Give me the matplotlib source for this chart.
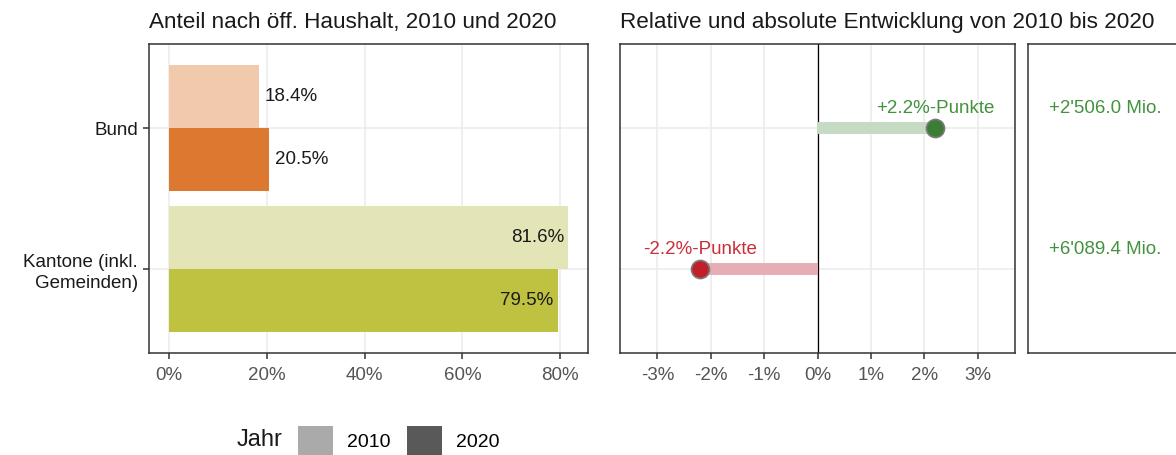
import numpy as np
import matplotlib
matplotlib.use('Agg')
import matplotlib.pyplot as plt
from matplotlib.patches import Patch
from matplotlib.ticker import FuncFormatter

plt.rcParams['font.family'] = ['Liberation Sans', 'DejaVu Sans']

# Anteile am Gesamthaushalt (%), 2010 und 2020
categories = ['Bund', 'Kantone (inkl.\nGemeinden)']
share_2010 = [18.4, 81.6]
share_2020 = [20.5, 79.5]
# Veränderung in %-Punkten und absolut (Mio.)
change_pp = [2.2, -2.2]
change_abs = [2506.0, 6089.4]

col_2010 = ['#f1c9ad', '#e4e5b6']
col_2020 = ['#dd7830', '#bfc140']
years = ['2010', '2020']
legend_cols = ['#aaaaaa', '#595959']

ypos = np.array([1, 0])
bar_h = 0.45
grid_col = '#ebebeb'
frame_col = '#333333'
txt_size = 13.5

fig = plt.figure(figsize=(11.76, 4.55), dpi=100)
ax1 = fig.add_axes([149/1176, 1-353/455, 439/1176, 309/455])
ax2 = fig.add_axes([620/1176, 1-353/455, 395/1176, 309/455])
ax3 = fig.add_axes([1028/1176, 1-353/455, 154/1176, 309/455])


def style_axes(ax):
    for s in ax.spines.values():
        s.set_color(frame_col)
        s.set_linewidth(1.1)
    ax.set_axisbelow(True)
    ax.grid(True, color=grid_col, linewidth=1.1)
    ax.tick_params(axis='both', colors=frame_col, length=4, width=1.1,
                   labelsize=txt_size, labelcolor='#555555')
    ax.tick_params(axis='x', pad=6)
    ax.set_ylim(-0.6, 1.6)
    ax.set_yticks(ypos)


# Panel 1: Anteile
style_axes(ax1)
ax1.barh(ypos + bar_h/2, share_2010, height=bar_h, color=col_2010)
ax1.barh(ypos - bar_h/2, share_2020, height=bar_h, color=col_2020)
ax1.set_xlim(-4.08, 85.68)
ax1.set_xticks([0, 20, 40, 60, 80])
ax1.xaxis.set_major_formatter(FuncFormatter(lambda v, p: f'{v:.0f}%'))
ax1.set_yticklabels(categories, linespacing=1.35)
ax1.tick_params(axis='y', labelcolor='#1a1a1a', pad=4)
for i in range(len(categories)):
    for val, yy in [(share_2010[i], ypos[i] + bar_h/2), (share_2020[i], ypos[i] - bar_h/2)]:
        if val < 50:
            ax1.annotate(f'{val:.1f}%', (val, yy), xytext=(4, 0), textcoords='offset points',
                         ha='left', va='center', fontsize=txt_size, color='#1a1a1a')
        else:
            ax1.annotate(f'{val:.1f}%', (val, yy), xytext=(-3, 0), textcoords='offset points',
                         ha='right', va='center', fontsize=txt_size, color='#1a1a1a')
ax1.set_title('Anteil nach öff. Haushalt, 2010 und 2020', loc='left',
              fontsize=16.2, color='#1a1a1a', pad=11.5)

# Panel 2: Veränderung in %-Punkten
style_axes(ax2)
ax2.set_xlim(-3.7, 3.7)
ax2.set_xticks([-3, -2, -1, 0, 1, 2, 3])
ax2.xaxis.set_major_formatter(FuncFormatter(lambda v, p: f'{int(round(v))}%'))
ax2.tick_params(axis='y', length=0, labelleft=False)
ax2.axvline(0, color='black', linewidth=0.9)
for i in range(len(categories)):
    v = change_pp[i]
    dot_c = '#3b7d34' if v > 0 else '#c1202b'
    seg_c = '#c6dbc4' if v > 0 else '#e7adb4'
    txt_c = '#43923e' if v > 0 else '#c92f38'
    ax2.plot([0, v], [ypos[i], ypos[i]], color=seg_c, linewidth=8.6,
             solid_capstyle='butt', zorder=3)
    ax2.plot([v], [ypos[i]], 'o', markersize=13, color=dot_c,
             markeredgecolor='#7a7a7a', markeredgewidth=1.2, zorder=4)
    ax2.annotate(f'{v:+.1f}%-Punkte', (v, ypos[i]), xytext=(0, 14), textcoords='offset points',
                 ha='center', va='center', fontsize=txt_size, color=txt_c)
ax2.set_title('Relative und absolute Entwicklung von 2010 bis 2020', loc='left',
              fontsize=16.2, color='#1a1a1a', pad=11.5)

# Panel 3: absolute Veränderung
for s in ax3.spines.values():
    s.set_color(frame_col)
    s.set_linewidth(1.1)
ax3.set_xlim(0, 1)
ax3.set_ylim(-0.6, 1.6)
ax3.set_xticks([])
ax3.set_yticks([])
for i in range(len(categories)):
    lab = f'{change_abs[i]:+,.1f}'.replace(',', "'") + ' Mio.'
    ax3.annotate(lab, (0.5, ypos[i]), xytext=(0, 14), textcoords='offset points',
                 ha='center', va='center', fontsize=txt_size, color='#43923e')

# Legende
fig.text(237/1176, 1-440/455, 'Jahr', fontsize=17, va='center', ha='left', color='#1a1a1a')
handles = [Patch(facecolor=c, edgecolor='none') for c in legend_cols]
fig.legend(handles, years, loc='center left', bbox_to_anchor=(298/1176, 1-441/455),
           ncol=2, frameon=False, fontsize=14, handlelength=1.8, handleheight=1.95,
           handletextpad=0.72, columnspacing=0.87, borderpad=0, borderaxespad=0)

fig.savefig('out.png', dpi=100)
